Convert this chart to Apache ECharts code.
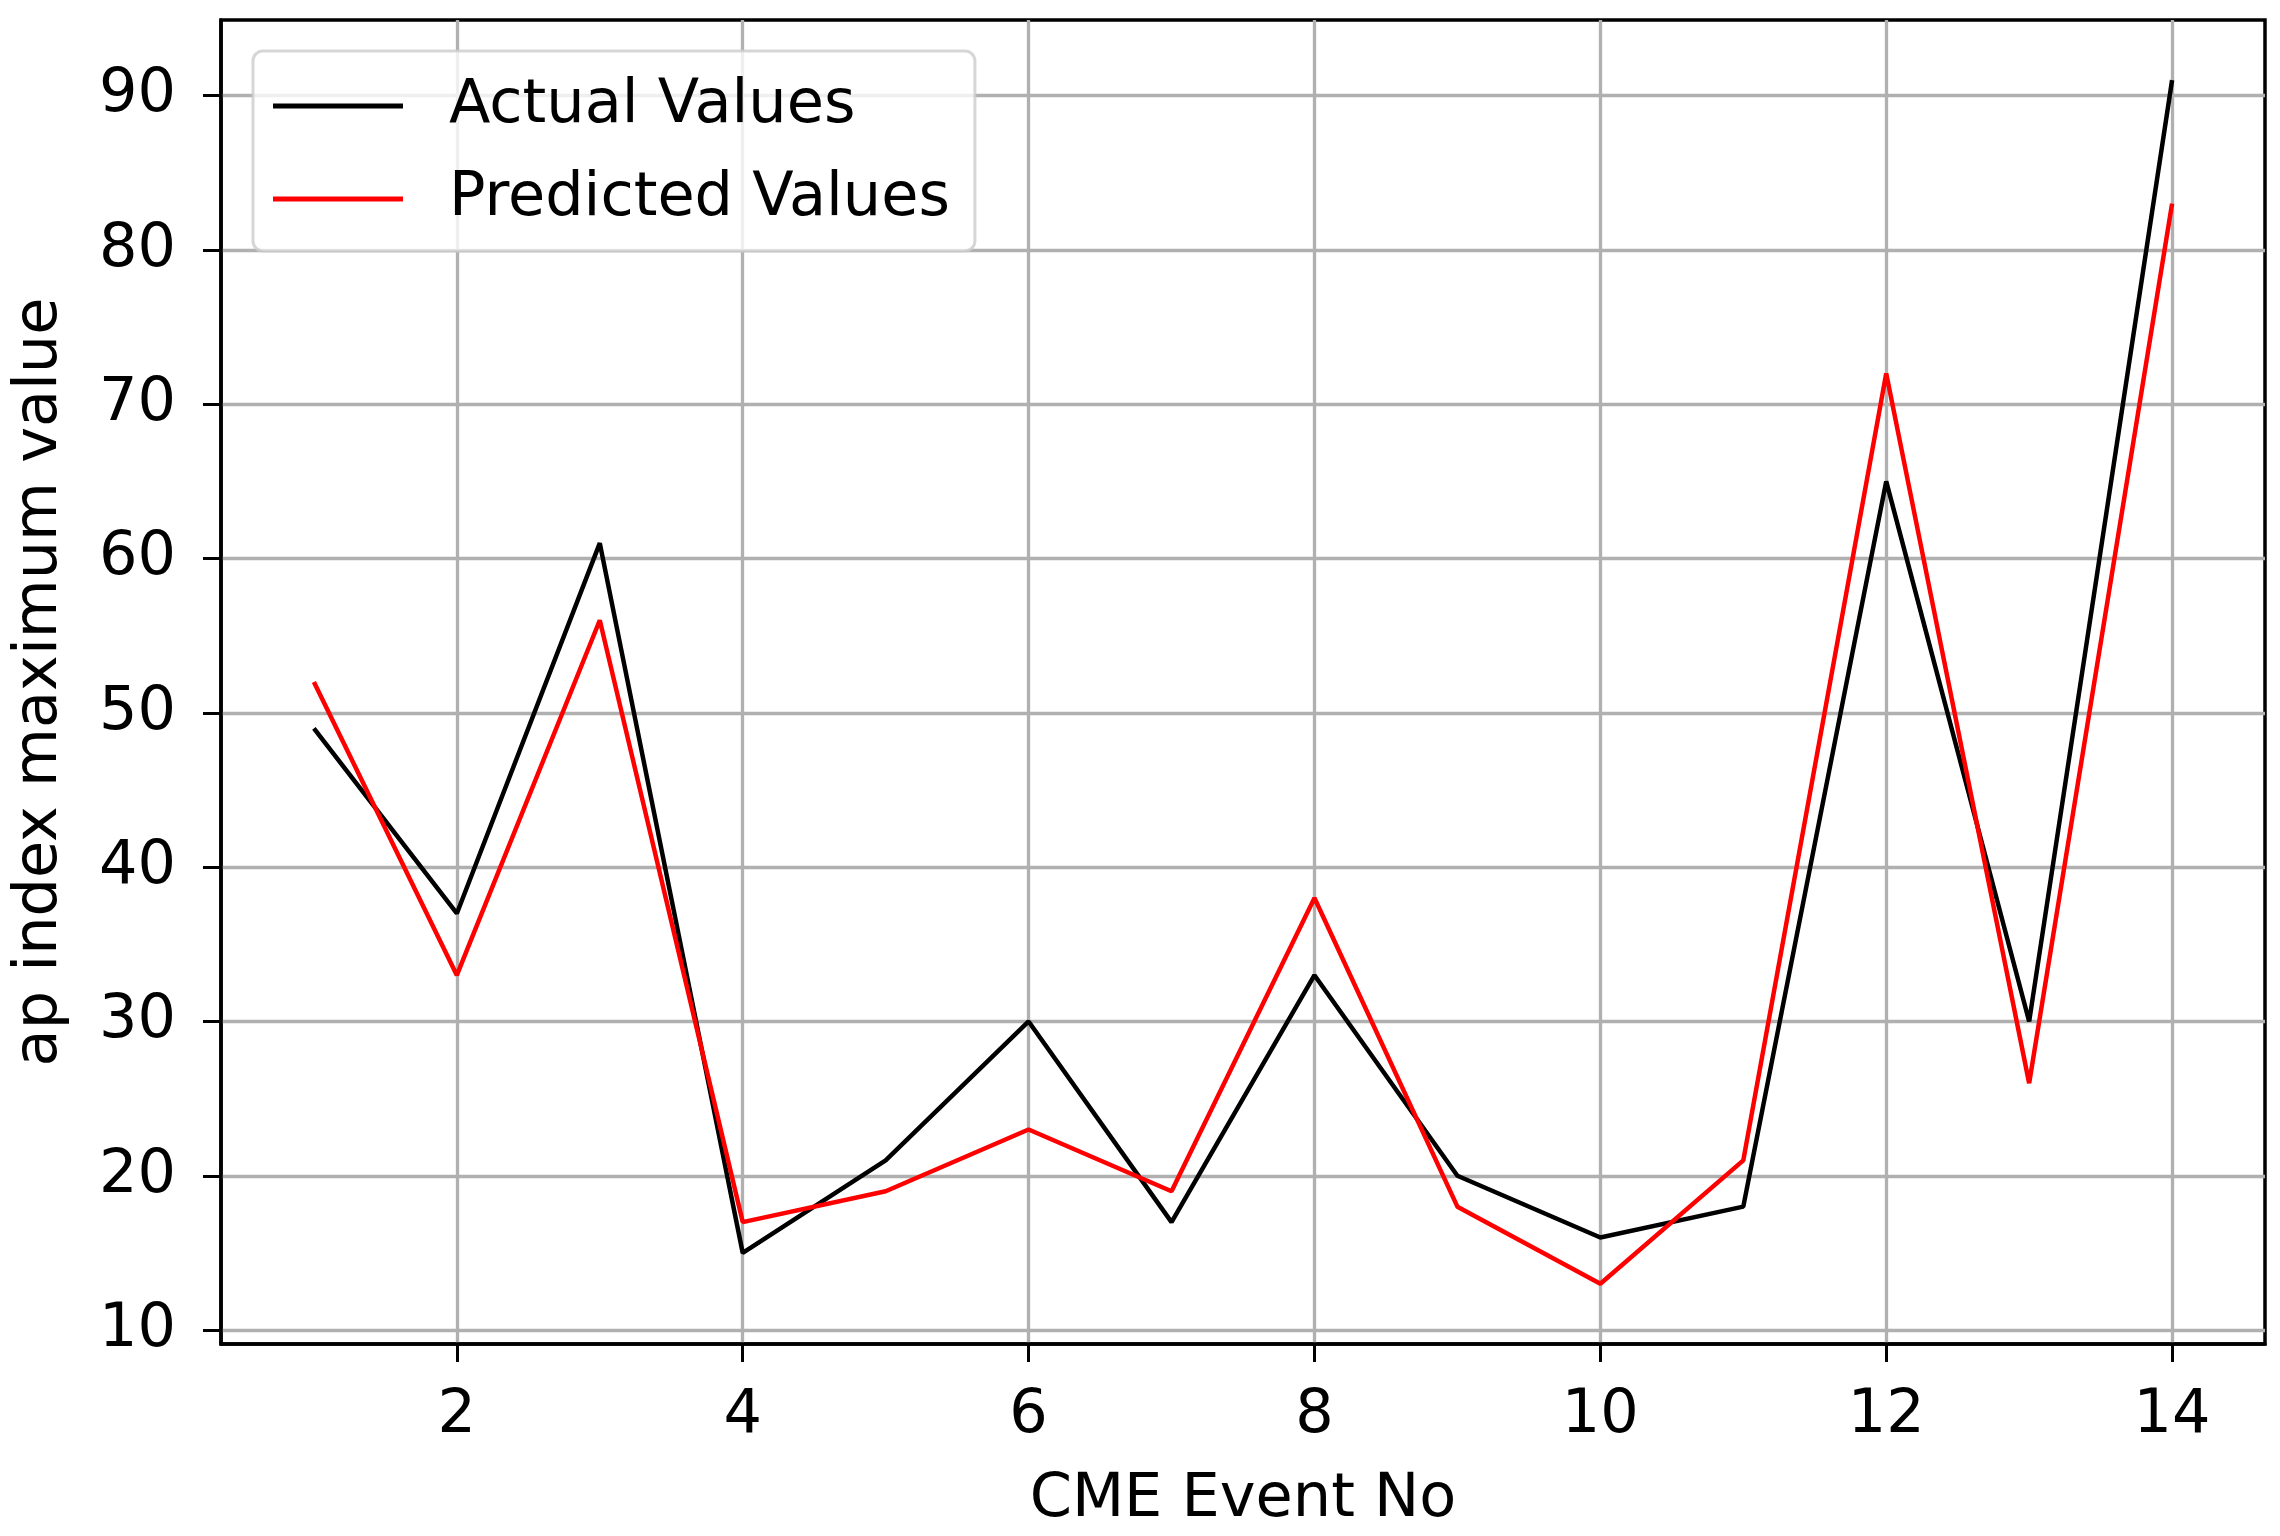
<!DOCTYPE html>
<html>
<head>
<meta charset="utf-8">
<script src="https://cdn.jsdelivr.net/npm/echarts@6/dist/echarts.min.js"></script>
<style>html,body{margin:0;padding:0;background:#fff}#c{width:2280px;height:1536px}</style>
</head>
<body>
<div id="c"></div>
<script>
const eventNo = [1,2,3,4,5,6,7,8,9,10,11,12,13,14];
const actualValues = [49,37,61,15,21,30,17,33,20,16,18,65,30,91];
const predictedValues = [52,33,56,17,19,23,19,38,18,13,21,72,26,83];
const xTicks = [2,4,6,8,10,12,14];
const yTicks = [10,20,30,40,50,60,70,80,90];

const FONT = 'DejaVu Sans';
const FS = 60.5;
const chart = echarts.init(document.getElementById('c'), null, {renderer:'canvas'});
chart.setOption({
  animation: false,
  backgroundColor: '#ffffff',
  textStyle: {fontFamily: FONT},
  grid: {left: 221, top: 20, right: 15, bottom: 189, show: true, borderColor: '#000', borderWidth: 3.5, backgroundColor: 'transparent', containLabel: false},
  legend: {
    left: 253, top: 51,
    orient: 'vertical',
    padding: [20, 25, 17, 20],
    itemGap: 23,
    itemWidth: 130, itemHeight: 5,
    icon: 'rect',
    backgroundColor: 'rgba(255,255,255,0.8)',
    borderColor: 'rgba(204,204,204,0.8)', borderWidth: 3, borderRadius: 10,
    textStyle: {fontFamily: FONT, fontSize: FS, color: '#000', lineHeight: 70, padding: [0,0,0,41]},
    data: ['Actual Values', 'Predicted Values']
  },
  xAxis: {
    type: 'value', min: 0.35, max: 14.65,
    name: 'CME Event No', nameLocation: 'middle', nameGap: 126,
    nameTextStyle: {fontFamily: FONT, fontSize: FS, color: '#000'},
    axisLine: {show: true, onZero: false, lineStyle: {color: '#000', width: 3.5}},
    axisTick: {show: true, length: 18, lineStyle: {color: '#000', width: 3}, customValues: xTicks},
    axisLabel: {fontFamily: FONT, fontSize: FS, color: '#000', margin: 42, customValues: xTicks},
    splitLine: {show: true, lineStyle: {color: '#b0b0b0', width: 3.3}}
  },
  yAxis: {
    type: 'value', min: 9.1, max: 94.9,
    name: 'ap index maximum value', nameLocation: 'middle', nameGap: 150, nameRotate: 90,
    nameTextStyle: {fontFamily: FONT, fontSize: FS, color: '#000'},
    axisLine: {show: true, onZero: false, lineStyle: {color: '#000', width: 3.5}},
    axisTick: {show: true, length: 18, lineStyle: {color: '#000', width: 3}, customValues: yTicks},
    axisLabel: {fontFamily: FONT, fontSize: FS, color: '#000', margin: 45, customValues: yTicks},
    splitLine: {show: true, lineStyle: {color: '#b0b0b0', width: 3.3}}
  },
  series: [
    {name: 'Actual Values', type: 'line', data: eventNo.map((x,i)=>[x, actualValues[i]]), showSymbol: false, symbol: 'none', color: '#000000', lineStyle: {color: '#000000', width: 4.5}},
    {name: 'Predicted Values', type: 'line', data: eventNo.map((x,i)=>[x, predictedValues[i]]), showSymbol: false, symbol: 'none', color: '#ff0000', lineStyle: {color: '#ff0000', width: 4.5}}
  ]
});
</script>
</body>
</html>
